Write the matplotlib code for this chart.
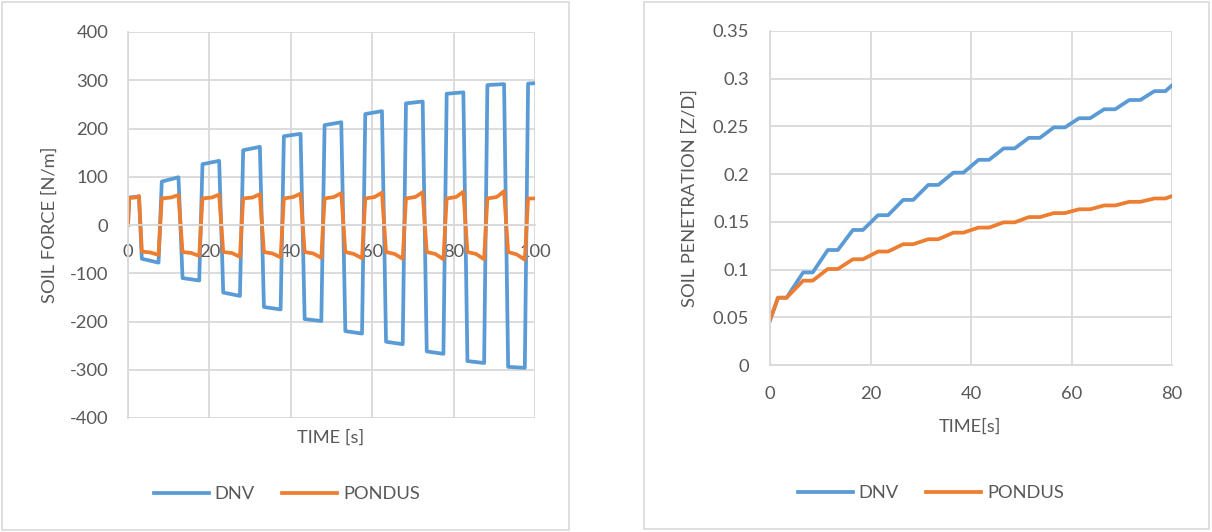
import matplotlib
matplotlib.use("Agg")
import matplotlib.pyplot as plt
from matplotlib.patches import Rectangle

plt.rcParams['font.family'] = ['Lato', 'DejaVu Sans']
plt.rcParams['axes.unicode_minus'] = False

BLUE = '#5B9BD5'
ORANGE = '#ED7D31'
GRID = '#D9D9D9'
TXT = '#595959'

# ---- left chart: soil force, half cycles of 5 s ----
seg_start = [0.3, 3.4, 8.3, 13.4, 18.3, 23.4, 28.3, 33.4, 38.3, 43.4, 48.3,
             53.4, 58.3, 63.4, 68.3, 73.4, 78.3, 83.4, 88.3, 93.4, 98.3]
seg_mid = [1.8, 5.5, 10.6, 15.5, 20.6, 25.5, 30.6, 35.5, 40.6, 45.5, 50.6,
           55.5, 60.6, 65.5, 70.6, 75.5, 80.6, 85.5, 90.6, 95.5, 99.2]
seg_end = [2.7, 7.5, 12.4, 17.5, 22.4, 27.5, 32.4, 37.5, 42.4, 47.5, 52.4,
           57.5, 62.4, 67.5, 72.4, 77.5, 82.4, 87.5, 92.4, 97.5, 100.0]

dnv_f_start = [57, -70, 90, -110, 126, -140, 155, -170, 184, -195, 207,
               -220, 230, -242, 252, -262, 272, -282, 290, -294, 293]
dnv_f_end = [59, -78, 99, -115, 133, -147, 162, -175, 189, -199, 213,
             -225, 236, -247, 256, -267, 275, -286, 292, -296, 294]

pon_f_start = [56, -55, 55, -56, 55, -56, 55, -56, 55, -56, 55,
               -56, 55, -56, 55, -56, 55, -56, 55, -56, 55]
pon_f_mid = [57, -57, 57, -58, 57, -58, 57, -59, 58, -59, 58,
             -60, 58, -60, 58, -60, 58, -60, 58, -61, 55]
pon_f_end = [60, -62, 62, -64, 63, -66, 64, -67, 65, -68, 66,
             -69, 67, -70, 68, -71, 69, -71, 70, -72, 55]

# ---- right chart: soil penetration, plateaus every 5 s ----
flat_start = [1.6, 6.6, 11.5, 16.5, 21.5, 26.5, 31.5, 36.5, 41.5, 46.5,
              51.5, 56.5, 61.5, 66.5, 71.5, 76.5]
flat_end = [3.3, 8.5, 13.5, 18.5, 23.5, 28.5, 33.5, 38.5, 43.6, 48.7,
            53.7, 58.7, 63.7, 68.7, 73.7, 78.7]
dnv_pen = [0.0705, 0.097, 0.1205, 0.1415, 0.157, 0.173, 0.1887, 0.2016,
           0.215, 0.227, 0.238, 0.249, 0.2586, 0.268, 0.2777, 0.287]
pon_pen = [0.0705, 0.0884, 0.1006, 0.1108, 0.1189, 0.1266, 0.1318, 0.1387,
           0.1440, 0.1495, 0.1550, 0.1592, 0.1632, 0.1672, 0.1710, 0.1745]
pen_t0, dnv_pen0, pon_pen0 = 0.0, 0.047, 0.047
pen_t_last, dnv_pen_last, pon_pen_last = 80.0, 0.293, 0.177

force_ticks = [-400, -300, -200, -100, 0, 100, 200, 300, 400]
time_ticks_l = [0, 20, 40, 60, 80, 100]
pen_ticks = [0, 0.05, 0.1, 0.15, 0.2, 0.25, 0.3, 0.35]
pen_tick_labels = ['0', '0.05', '0.1', '0.15', '0.2', '0.25', '0.3', '0.35']
time_ticks_r = [0, 20, 40, 60, 80]

# build series
t_dnv = [0.0]
f_dnv = [0.0]
for a, b, va, vb in zip(seg_start, seg_end, dnv_f_start, dnv_f_end):
    t_dnv += [a, b]
    f_dnv += [va, vb]
t_pon = [0.0]
f_pon = [0.0]
for a, m, b, va, vm, vb in zip(seg_start, seg_mid, seg_end, pon_f_start, pon_f_mid, pon_f_end):
    t_pon += [a, m, b]
    f_pon += [va, vm, vb]

tp = [pen_t0]
pd_ = [dnv_pen0]
pp = [pon_pen0]
for a, b, vd, vp in zip(flat_start, flat_end, dnv_pen, pon_pen):
    tp += [a, b]
    pd_ += [vd, vd]
    pp += [vp, vp]
tp.append(pen_t_last)
pd_.append(dnv_pen_last)
pp.append(pon_pen_last)

W, H = 1212, 532
fig = plt.figure(figsize=(W / 100, H / 100), dpi=100)

# chart area borders
fig.add_artist(Rectangle((2 / W, 1 - 530 / H), 567 / W, 528 / H, transform=fig.transFigure,
                         fill=False, edgecolor=GRID, lw=1.2))
fig.add_artist(Rectangle((644 / W, 1 - 529 / H), 565 / W, 527 / H, transform=fig.transFigure,
                         fill=False, edgecolor=GRID, lw=1.2))

fs = 13.2

def style(ax):
    for s in ['top', 'right']:
        ax.spines[s].set_visible(False)
    for s in ['left', 'bottom']:
        ax.spines[s].set_color(GRID)
        ax.spines[s].set_linewidth(1.3)
    ax.grid(True, color=GRID, lw=1.3)
    ax.set_axisbelow(True)
    ax.tick_params(length=0, colors=TXT, labelsize=fs)

# left
ax1 = fig.add_axes([128 / W, 1 - 418 / H, 407 / W, 386 / H])
style(ax1)
ax1.plot(t_dnv, f_dnv, color=BLUE, lw=2.7, label='DNV', solid_joinstyle='round')
ax1.plot(t_pon, f_pon, color=ORANGE, lw=2.7, label='PONDUS', solid_joinstyle='round')
ax1.set_xlim(0, 100)
ax1.set_ylim(-400, 400)
ax1.set_xticks(time_ticks_l)
ax1.set_yticks(force_ticks)
ax1.spines['bottom'].set_position(('data', 0))
ax1.tick_params(axis='x', pad=14)
ax1.tick_params(axis='y', pad=14)
for lab in ax1.get_xticklabels():
    lab.set_zorder(5)
fig.text(331 / W, 1 - 438 / H, 'TIME [s]', ha='center', va='center', color=TXT, fontsize=fs)
fig.text(50 / W, 1 - 225 / H, 'SOIL FORCE [N/m]', ha='center', va='center', rotation=90,
         color=TXT, fontsize=fs)
fig.legend(*ax1.get_legend_handles_labels(), loc='center', bbox_to_anchor=(287 / W, 1 - 494 / H),
           ncol=2, frameon=False, fontsize=fs, handlelength=3.0, columnspacing=1.5,
           handletextpad=0.3, labelcolor=TXT)

# right
ax2 = fig.add_axes([770 / W, 1 - 365 / H, 402 / W, 334 / H])
style(ax2)
ax2.plot(tp, pd_, color=BLUE, lw=2.7, label='DNV', solid_joinstyle='round')
ax2.plot(tp, pp, color=ORANGE, lw=2.7, label='PONDUS', solid_joinstyle='round')
ax2.set_xlim(0, 80)
ax2.set_ylim(0, 0.35)
ax2.set_xticks(time_ticks_r)
ax2.set_yticks(pen_ticks)
ax2.set_yticklabels(pen_tick_labels)
ax2.tick_params(axis='x', pad=15)
ax2.tick_params(axis='y', pad=15)
fig.text(970 / W, 1 - 427 / H, 'TIME[s]', ha='center', va='center', color=TXT, fontsize=fs)
fig.text(690 / W, 1 - 198 / H, 'SOIL PENETRATION [Z/D]', ha='center', va='center', rotation=90,
         color=TXT, fontsize=fs)
fig.legend(*ax2.get_legend_handles_labels(), loc='center', bbox_to_anchor=(931 / W, 1 - 493 / H),
           ncol=2, frameon=False, fontsize=fs, handlelength=3.0, columnspacing=1.5,
           handletextpad=0.3, labelcolor=TXT)

fig.savefig('out.png', dpi=100)
